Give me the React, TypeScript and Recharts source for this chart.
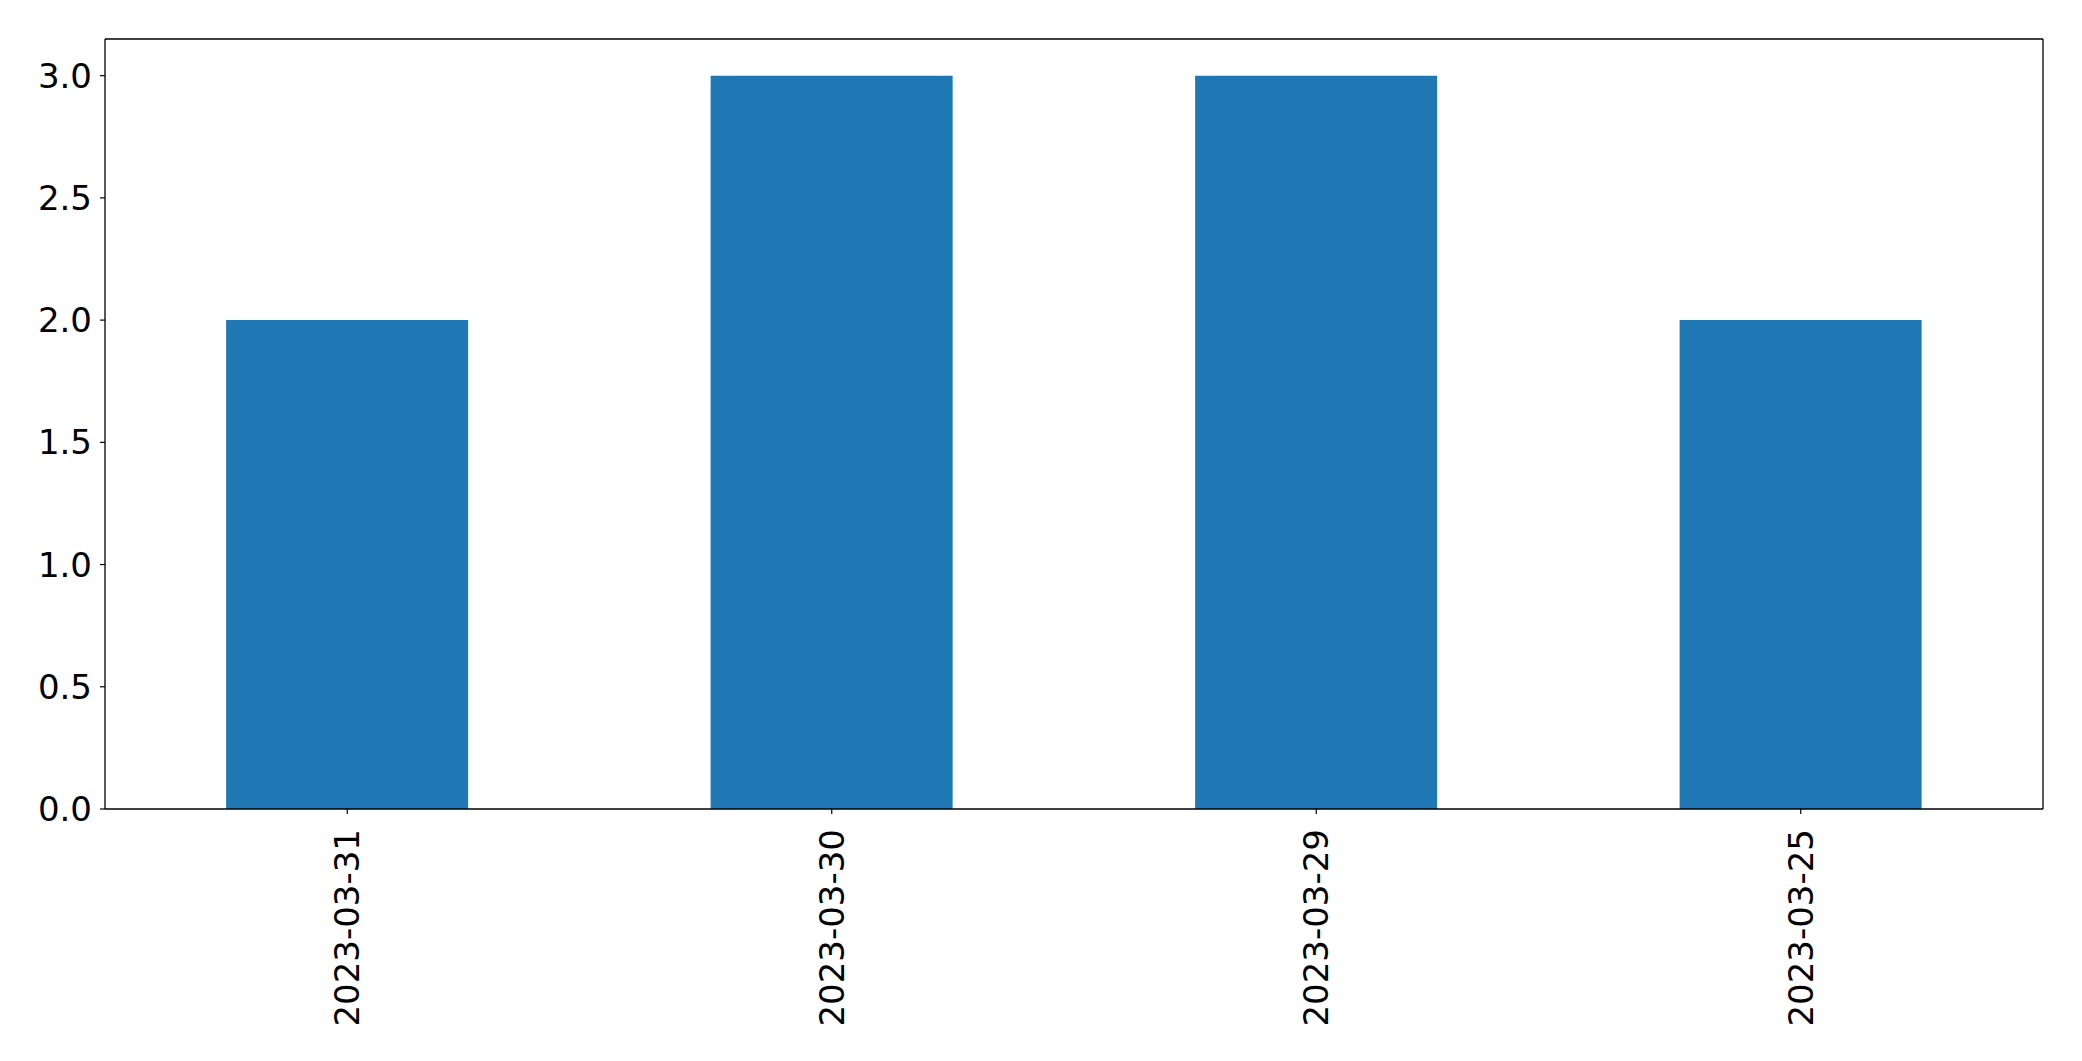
import { BarChart, Bar, XAxis, YAxis } from "recharts"

const dates = ["2023-03-31", "2023-03-30", "2023-03-29", "2023-03-25"]
const counts = [2, 3, 3, 2]
const yTicks = [0, 0.5, 1.0, 1.5, 2.0, 2.5, 3.0]

const data = dates.map((d, i) => ({ date: d, count: counts[i] }))

const FONT = "DejaVu Sans"

function DateTick(props: any) {
    const { x, y, payload } = props
    return (
        <text
            transform={`translate(${x},${y + 13}) rotate(-90)`}
            textAnchor="end"
            dominantBaseline="central"
            fontFamily={FONT}
            fontSize={34}
            fill="#000"
        >
            {payload.value}
        </text>
    )
}

export default function App() {
    return (
        <div style={{ position: "absolute", left: 0, top: 0, background: "#fff" }}>
            <BarChart
                width={2082}
                height={1061}
                data={data}
                margin={{ top: 38, right: 38, bottom: 0, left: 0 }}
                barCategoryGap="25%"
            >
                <XAxis
                    dataKey="date"
                    height={252}
                    tick={<DateTick />}
                    tickSize={5}
                    tickLine={{ stroke: "#000", strokeWidth: 1.2 }}
                    axisLine={{ stroke: "#000", strokeWidth: 1.3 }}
                    interval={0}
                />
                <XAxis
                    xAxisId="top"
                    orientation="top"
                    dataKey="date"
                    height={1}
                    tick={false}
                    tickLine={false}
                    axisLine={{ stroke: "#000", strokeWidth: 1.3 }}
                />
                <YAxis
                    width={105}
                    domain={[0, 3.15]}
                    ticks={yTicks}
                    tickFormatter={(v: number) => v.toFixed(1)}
                    tickSize={5}
                    tickMargin={8}
                    tick={{ fontFamily: FONT, fontSize: 34, fill: "#000" }}
                    tickLine={{ stroke: "#000", strokeWidth: 1.2 }}
                    axisLine={{ stroke: "#000", strokeWidth: 1.3 }}
                    allowDataOverflow
                />
                <YAxis
                    yAxisId="right"
                    orientation="right"
                    width={1}
                    domain={[0, 3.15]}
                    tick={false}
                    tickLine={false}
                    axisLine={{ stroke: "#000", strokeWidth: 1.3 }}
                />
                <Bar dataKey="count" fill="#1f77b4" isAnimationActive={false} />
            </BarChart>
        </div>
    )
}
